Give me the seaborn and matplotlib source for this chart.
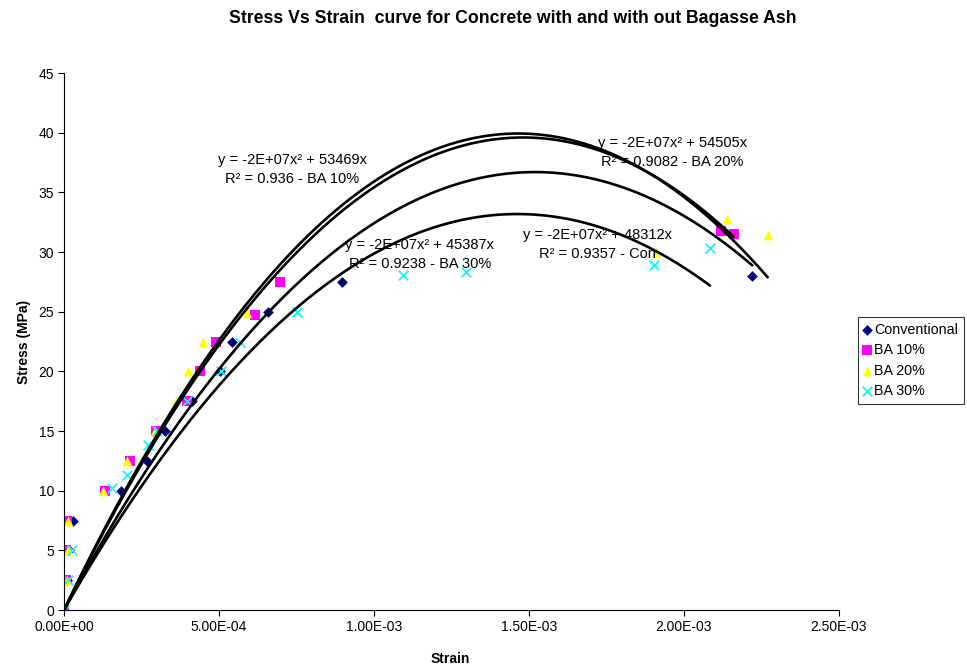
import numpy as np
import pandas as pd
import seaborn as sns
import matplotlib.pyplot as plt

from matplotlib.ticker import FuncFormatter

# data
series_names = ["Conventional", "BA 10%", "BA 20%", "BA 30%"]

conv_strain = [0, 1.0e-5, 1.5e-5, 3.0e-5, 1.83e-4, 2.67e-4, 3.26e-4, 4.12e-4,
               5.03e-4, 5.41e-4, 6.57e-4, 8.97e-4, 2.22e-3]
conv_stress = [0, 2.5, 5, 7.5, 10, 12.5, 15, 17.5, 20, 22.5, 25, 27.5, 28.0]

ba10_strain = [0, 0.8e-5, 0.8e-5, 1.0e-5, 1.32e-4, 2.13e-4, 2.97e-4, 3.96e-4,
               4.39e-4, 4.90e-4, 6.16e-4, 6.98e-4, 2.12e-3, 2.16e-3]
ba10_stress = [0, 2.5, 5, 7.5, 10, 12.5, 15, 17.5, 20, 22.5, 24.7, 27.5, 31.8, 31.5]

ba20_strain = [0, 1.0e-5, 1.2e-5, 1.4e-5, 1.26e-4, 2.03e-4, 2.94e-4, 3.61e-4,
               4.01e-4, 4.49e-4, 5.91e-4, 1.91e-3, 2.14e-3, 2.27e-3]
ba20_stress = [0, 2.5, 5, 7.5, 10, 12.5, 15, 17.5, 20, 22.5, 24.9, 30.0, 32.8, 31.4]

ba30_strain = [0, 1.2e-5, 2.5e-5, 1.54e-4, 2.02e-4, 2.72e-4, 2.99e-4, 3.96e-4,
               5.05e-4, 5.68e-4, 7.52e-4, 1.094e-3, 1.297e-3, 1.903e-3, 2.084e-3]
ba30_stress = [0, 2.5, 5, 10.2, 11.3, 13.8, 15, 17.5, 20, 22.5, 25, 28.1, 28.3,
               28.9, 30.3]

# polynomial trend lines y = a*x^2 + b*x  (b from the labels, a from the curve peaks)
trend_a = [-1.590e7, -1.805e7, -1.860e7, -1.552e7]
trend_b = [48312, 53469, 54505, 45387]

trend_labels = [
    "y = -2E+07x\u00b2 + 48312x\nR\u00b2 = 0.9357 - Con",
    "y = -2E+07x\u00b2 + 53469x\nR\u00b2 = 0.936 - BA 10%",
    "y = -2E+07x\u00b2 + 54505x\nR\u00b2 = 0.9082 - BA 20%",
    "y = -2E+07x\u00b2 + 45387x\nR\u00b2 = 0.9238 - BA 30%",
]
label_x = [1.721e-3, 7.36e-4, 1.963e-3, 1.148e-3]
label_y = [30.6, 36.9, 38.3, 29.8]

xticks = [0, 5e-4, 1e-3, 1.5e-3, 2e-3, 2.5e-3]
yticks = [0, 5, 10, 15, 20, 25, 30, 35, 40, 45]

colors = ["#000080", "#ff00ff", "#ffff00", "#00ffff"]
markers = ["D", "s", "^", "x"]
sizes = [30, 42, 48, 48]

strains = [conv_strain, ba10_strain, ba20_strain, ba30_strain]
stresses = [conv_stress, ba10_stress, ba20_stress, ba30_stress]

sns.set_style("white")
plt.rcParams["font.family"] = ["Liberation Sans", "DejaVu Sans"]
plt.rcParams["text.color"] = "black"
plt.rcParams["axes.labelcolor"] = "black"
plt.rcParams["xtick.color"] = "black"
plt.rcParams["ytick.color"] = "black"

fig = plt.figure(figsize=(9.67, 6.68), dpi=100)
ax = fig.add_axes([0.0662, 0.0868, 0.8014, 0.8039])

for i, name in enumerate(series_names):
    df = pd.DataFrame({"Strain": strains[i], "Stress": stresses[i]})
    if markers[i] == "x":
        kw = dict(linewidth=1.3)
    else:
        kw = dict(linewidth=0)
    sns.scatterplot(data=df, x="Strain", y="Stress", color=colors[i],
                    marker=markers[i], s=sizes[i], label=name, ax=ax,
                    zorder=2, **kw)

for i, name in enumerate(series_names):
    xs = np.linspace(0, max(strains[i]), 200)
    ax.plot(xs, np.polyval([trend_a[i], trend_b[i], 0], xs),
            color="black", lw=1.9, zorder=3)
    ax.text(label_x[i], label_y[i], trend_labels[i], ha="center", va="center",
            fontsize=10.5, linespacing=1.45, zorder=4)

ax.set_xlim(0, 2.5e-3)
ax.set_ylim(0, 45)
ax.set_xticks(xticks)
ax.set_yticks(yticks)
ax.xaxis.set_major_formatter(FuncFormatter(lambda v, p: "%.2E" % v))
ax.tick_params(direction="out", length=4, width=0.8, labelsize=10,
               bottom=True, left=True, pad=3)
for side in ["top", "right"]:
    ax.spines[side].set_visible(False)
for side in ["left", "bottom"]:
    ax.spines[side].set_color("black")
    ax.spines[side].set_linewidth(0.8)

ax.set_xlabel("Strain", fontsize=10, fontweight="bold")
ax.set_ylabel("Stress (MPa)", fontsize=10, fontweight="bold")
ax.xaxis.set_label_coords(0.498, -0.078)
ax.yaxis.set_label_coords(-0.043, 0.5)

fig.text(0.530, 0.973, "Stress Vs Strain  curve for Concrete with and with out Bagasse Ash",
         ha="center", va="center", fontsize=12.7, fontweight="bold")

leg = ax.legend(loc="upper left", bbox_to_anchor=(0.887, 0.5255),
                bbox_transform=fig.transFigure, title=None, fontsize=10.3,
                frameon=True, fancybox=False, edgecolor="black",
                labelspacing=0.45, handletextpad=0.3, handlelength=0.45,
                borderpad=0.4, borderaxespad=0)
leg.get_frame().set_linewidth(0.8)

fig.savefig("out.png", dpi=100)
